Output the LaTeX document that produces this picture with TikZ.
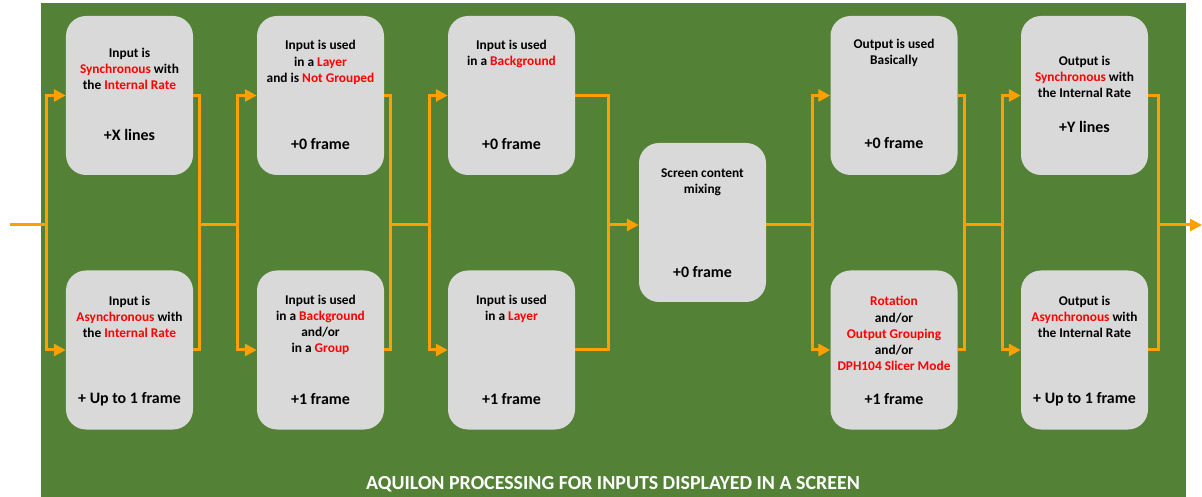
\documentclass[tikz,border=0pt]{standalone}
\usepackage{fontspec}
\setmainfont{Carlito}
\usetikzlibrary{arrows.meta}
\definecolor{bg}{HTML}{538135}
\definecolor{boxc}{HTML}{D9D9D9}
\definecolor{orng}{HTML}{FFA000}
\definecolor{hl}{HTML}{FF0000}
\newcommand{\hi}[1]{\textcolor{hl}{#1}}
\begin{document}
\begin{tikzpicture}[x=1bp,y=-1bp,
 box/.style={draw=none, fill=boxc, rounded corners=20bp, minimum width=127bp, minimum height=159bp, inner sep=0pt},
 txt/.style={font=\fontsize{13.4}{16.2}\selectfont\bfseries, align=center, inner sep=0pt, text=black},
 lat/.style={font=\fontsize{16}{19}\selectfont\bfseries, inner sep=0pt, text=black},
 line/.style={draw=orng, line width=3bp},
 arr/.style={line, -{Triangle[length=12bp,width=12bp]}},
]
\useasboundingbox (0,0) rectangle (1202,497);
\fill[bg] (41,3) rectangle (1186,497);

% boxes
\node[box] (A1) at (129.5,95.5) {};
\node[box] (B1) at (129.5,350) {};
\node[box] (A2) at (320.5,95.5) {};
\node[box] (B2) at (320.5,350) {};
\node[box] (A3) at (511.5,95.5) {};
\node[box] (B3) at (511.5,350) {};
\node[box] (C) at (702.5,222.5) {};
\node[box] (A5) at (894,95.5) {};
\node[box] (B5) at (894,350) {};
\node[box] (A6) at (1084.5,95.5) {};
\node[box] (B6) at (1084.5,350) {};

% texts
\node[txt] (tA1) at (129.5,69) {Input is\\\hi{Synchronous} with\\the \hi{Internal Rate}};
\node[lat] (lA1) at (129.5,135) {+X lines};
\node[txt] (tB1) at (129.5,317) {Input is\\\hi{Asynchronous} with\\the \hi{Internal Rate}};
\node[lat] (lB1) at (129.5,399) {+ Up to 1 frame};
\node[txt] (tA2) at (320.5,62.5) {Input is used\\in a \hi{Layer}\\and is \hi{Not Grouped}};
\node[lat] (lA2) at (320.5,144) {+0 frame};
\node[txt] (tB2) at (320.5,325) {Input is used\\in a \hi{Background}\\and/or\\in a \hi{Group}};
\node[lat] (lB2) at (320.5,399) {+1 frame};
\node[txt] (tA3) at (511.5,54) {Input is used\\in a \hi{Background}};
\node[lat] (lA3) at (511.5,144) {+0 frame};
\node[txt] (tB3) at (511.5,309) {Input is used\\in a \hi{Layer}};
\node[lat] (lB3) at (511.5,399) {+1 frame};
\node[txt] (tC) at (702.5,182) {Screen content\\mixing};
\node[lat] (lC) at (702.5,272) {+0 frame};
\node[txt] (tA5) at (894,53) {Output is used\\Basically};
\node[lat] (lA5) at (894,143) {+0 frame};
\node[txt] (tB5) at (894,333.5) {\hi{Rotation}\\and/or\\\hi{Output Grouping}\\and/or\\\hi{DPH104 Slicer Mode}};
\node[lat] (lB5) at (894,399) {+1 frame};
\node[txt] (tA6) at (1084.5,77) {Output is\\\hi{Synchronous} with\\the Internal Rate};
\node[lat] (lA6) at (1084.5,127) {+Y lines};
\node[txt] (tB6) at (1084.5,317) {Output is\\\hi{Asynchronous} with\\the Internal Rate};
\node[lat] (lB6) at (1084.5,399) {+ Up to 1 frame};

\node[font=\fontsize{20}{24}\selectfont\bfseries, text=white, inner sep=0pt] (title) at (613,484) {AQUILON PROCESSING FOR INPUTS DISPLAYED IN A SCREEN};

% connectors
\coordinate (in) at (10,225);
\coordinate (s1) at (46,225);
\coordinate (j1) at (199,225);
\coordinate (s2) at (237,225);
\coordinate (j2) at (390,225);
\coordinate (s3) at (429,225);
\coordinate (j3) at (608,225);
\coordinate (s5) at (812,225);
\coordinate (j5) at (964,225);
\coordinate (s6) at (1002,225);
\coordinate (j6) at (1158,225);
\coordinate (out) at (1202,225);

\draw[line] (in) -- (s1);
\draw[arr] (s1) |- (A1.west);
\draw[arr] (s1) |- (B1.west);
\draw[line] (A1.east) -| (j1);
\draw[line] (B1.east) -| (j1);
\draw[line] (j1) -- (s2);
\draw[arr] (s2) |- (A2.west);
\draw[arr] (s2) |- (B2.west);
\draw[line] (A2.east) -| (j2);
\draw[line] (B2.east) -| (j2);
\draw[line] (j2) -- (s3);
\draw[arr] (s3) |- (A3.west);
\draw[arr] (s3) |- (B3.west);
\draw[line] (A3.east) -| (j3);
\draw[line] (B3.east) -| (j3);
\draw[arr] (j3) -- (C.west |- j3);
\draw[line] (C.east |- s5) -- (s5);
\draw[arr] (s5) |- (A5.west);
\draw[arr] (s5) |- (B5.west);
\draw[line] (A5.east) -| (j5);
\draw[line] (B5.east) -| (j5);
\draw[line] (j5) -- (s6);
\draw[arr] (s6) |- (A6.west);
\draw[arr] (s6) |- (B6.west);
\draw[line] (A6.east) -| (j6);
\draw[line] (B6.east) -| (j6);
\draw[arr] (j6) -- (out);
\end{tikzpicture}
\end{document}
